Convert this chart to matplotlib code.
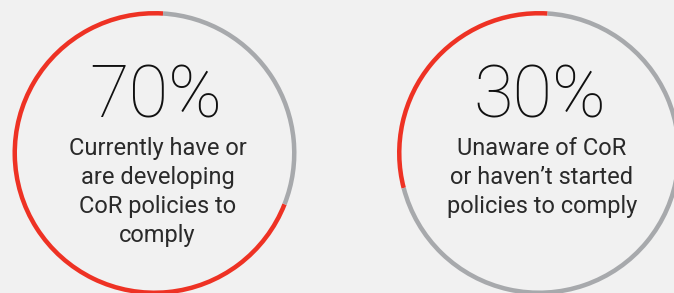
import matplotlib
matplotlib.use("Agg")
import matplotlib.pyplot as plt

# ring values: red share first, grey remainder
shares = [70, 30]
big_labels = ["70%", "30%"]
captions = [
    ["Currently have or", "are developing", "CoR policies to", "comply"],
    ["Unaware of CoR", "or haven\u2019t started", "policies to comply"],
]

red = "#ee3224"
grey = "#a7a9ac"
bg = "#f1f1f1"

W, H = 674, 293
fig = plt.figure(figsize=(W / 100, H / 100), dpi=100, facecolor=bg)
ax = fig.add_axes([0, 0, 1, 1])
ax.set_facecolor(bg)

centers_x = [154.5, 539]
cy = H - 153
radius = 142

for i, cx in enumerate(centers_x):
    ax.pie([shares[i], 100 - shares[i]], colors=[red, grey],
           startangle=86.5, counterclock=True,
           radius=radius, center=(cx, cy), frame=True,
           wedgeprops=dict(width=4.5, linewidth=0))

    ax.text(cx + 1, H - 118, big_labels[i], ha="center", va="baseline",
            fontsize=52, family="Roboto", fontweight="light", color="#111111")

    for j, line in enumerate(captions[i]):
        ax.text(cx + 3, H - 155 - 29 * j, line, ha="center", va="baseline",
                fontsize=17, family="Roboto", fontweight="normal",
                color="#2a2a2a")

ax.set_xlim(0, W)
ax.set_ylim(0, H)
ax.set_aspect("equal")
ax.axis("off")

fig.savefig("out.png", dpi=100, facecolor=bg)
